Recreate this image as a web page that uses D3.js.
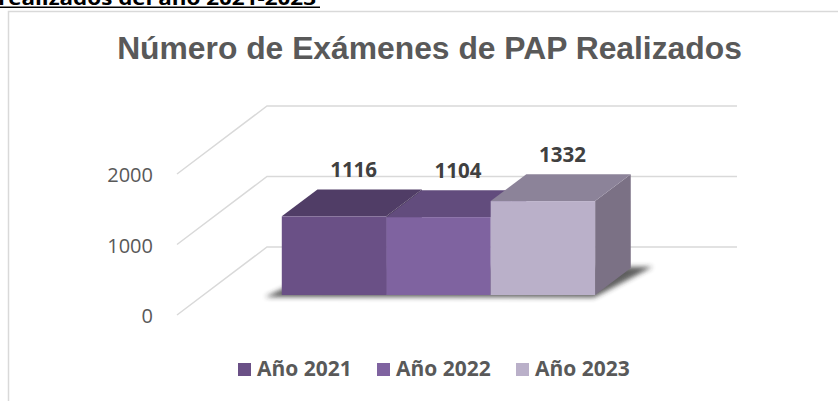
<!DOCTYPE html>
<html><head><meta charset="utf-8">
<script src="https://cdn.jsdelivr.net/npm/d3@7"></script>
<style>html,body{margin:0;padding:0;background:#fff;overflow:hidden}</style>
</head><body>
<svg id="c" width="838" height="401"></svg>
<script>
// ---- data ----
const heading = "realizados del año 2021-2023";
const title = "Número de Exámenes de PAP Realizados";
const category = ["Número de Exámenes de PAP"];
const series = ["Año 2021", "Año 2022", "Año 2023"];
const values = [1116, 1104, 1332];
const yTicks = [0, 1000, 2000];

const frontColors = ["#6a5086", "#7f63a0", "#bab0c9"];
const topColors   = ["#503d66", "#624c7d", "#8c8399"];
const sideColors  = ["#4a3a5c", "#5c4874", "#7b7185"];

const svg = d3.select("#c");

// frame
svg.append("path").attr("d", "M8.5,401 V11.5 H838")
  .attr("fill", "none").attr("stroke", "#d9d9d9").attr("stroke-width", 1.5);

// heading (cut at top, as in the source)
svg.append("text").attr("x", -2).attr("y", 5)
  .attr("font-family", "Open Sans").attr("font-weight", 700).attr("font-size", 20)
  .attr("textLength", 318).attr("lengthAdjust", "spacingAndGlyphs")
  .attr("fill", "#000").text(heading);
svg.append("line").attr("x1", 0).attr("x2", 320).attr("y1", 7.2).attr("y2", 7.2)
  .attr("stroke", "#000").attr("stroke-width", 1.6);

// title
const t = svg.append("text").attr("x", 429.5).attr("y", 59).attr("text-anchor", "middle")
  .attr("font-family", "Liberation Sans, Arial, sans-serif").attr("font-weight", 700)
  .attr("font-size", 29.5).attr("fill", "#595959").text(title);
const tw = t.node().getComputedTextLength();
if (tw > 0) t.attr("font-size", 29.5 * 625 / tw);

// ---- 3D projection ----
const floorX0 = 177, floorY0 = 315, floorW = 470;
const depthDX = 90, depthDY = -68;
const y = d3.scaleLinear().domain([0, 2000]).range([0, 141]);
const xCat = d3.scaleBand().domain(category).range([0, floorW]).paddingOuter(0.25).paddingInner(0);
const xSer = d3.scaleBand().domain(series).range([xCat(category[0]), xCat(category[0]) + xCat.bandwidth()]).padding(0);
const zFront = 0.294, zBack = 0.69;
const P = (xw, v, z) => [floorX0 + xw + z * depthDX, floorY0 - y(v) + z * depthDY];
const pts = a => a.map(p => p.join(",")).join(" ");

// gridlines
const grid = svg.append("g").attr("stroke", "#d9d9d9").attr("stroke-width", 1.5).attr("fill", "none");
yTicks.forEach(v => {
  const a = P(0, v, 0), b = P(0, v, 1), c = P(floorW, v, 1);
  grid.append("polyline").attr("points", pts([a, b, c]));
});

// y labels
svg.append("g").selectAll("text").data(yTicks).join("text")
  .attr("x", 153).attr("y", d => P(0, d, 0)[1] + 1).attr("dy", "0.36em")
  .attr("text-anchor", "end").attr("font-family", "Open Sans").attr("font-size", 20)
  .attr("fill", "#595959").text(d => d);

// shadow
const defs = svg.append("defs");
defs.append("filter").attr("id", "blur").attr("x", "-20%").attr("y", "-50%").attr("width", "140%").attr("height", "200%")
  .append("feGaussianBlur").attr("stdDeviation", 2.5);
const xs = xSer(series[0]), xe = xSer(series[series.length - 1]) + xSer.bandwidth();
svg.append("polygon")
  .attr("points", pts([P(xs - 14, 0, zFront - 0.03), P(xe + 2, 0, zFront - 0.035), P(xe + 20, 0, zBack + 0.02), P(xs + 10, 0, zBack)]))
  .attr("fill", "#2b2b2b").attr("opacity", 0.75).attr("filter", "url(#blur)");

// bars
const bars = svg.append("g");
series.forEach((s, i) => {
  const v = values[i];
  const x0 = xSer(s), x1 = x0 + xSer.bandwidth();
  const g = bars.append("g");
  g.append("polygon").attr("points", pts([P(x1, 0, zFront), P(x1, 0, zBack), P(x1, v, zBack), P(x1, v, zFront)]))
    .attr("fill", sideColors[i]);
  g.append("polygon").attr("points", pts([P(x0, v, zFront), P(x1, v, zFront), P(x1, v, zBack), P(x0, v, zBack)]))
    .attr("fill", topColors[i]);
  const f0 = P(x0, v, zFront), f1 = P(x1, 0, zFront);
  g.append("rect").attr("x", f0[0]).attr("y", f0[1]).attr("width", f1[0] - f0[0]).attr("height", f1[1] - f0[1])
    .attr("fill", frontColors[i]);
});

// value labels
svg.append("g").selectAll("text").data(series).join("text")
  .attr("x", (s) => P(xSer(s) + xSer.bandwidth() / 2, 0, zFront + 0.55 * (zBack - zFront))[0])
  .attr("y", (s, i) => P(0, values[i], zBack)[1] - 12)
  .attr("text-anchor", "middle").attr("font-family", "Open Sans").attr("font-weight", 700)
  .attr("font-size", 20.5).attr("fill", "#404040").text((s, i) => values[i]);

// legend
const legendX = [238, 377, 516];
const lg = svg.append("g");
series.forEach((s, i) => {
  lg.append("rect").attr("x", legendX[i]).attr("y", 363).attr("width", 13).attr("height", 13).attr("fill", frontColors[i]);
  lg.append("text").attr("x", legendX[i] + 19).attr("y", 376)
    .attr("font-family", "Open Sans").attr("font-weight", 700).attr("font-size", 21)
    .attr("fill", "#595959").text(s);
});
</script>
</body></html>
